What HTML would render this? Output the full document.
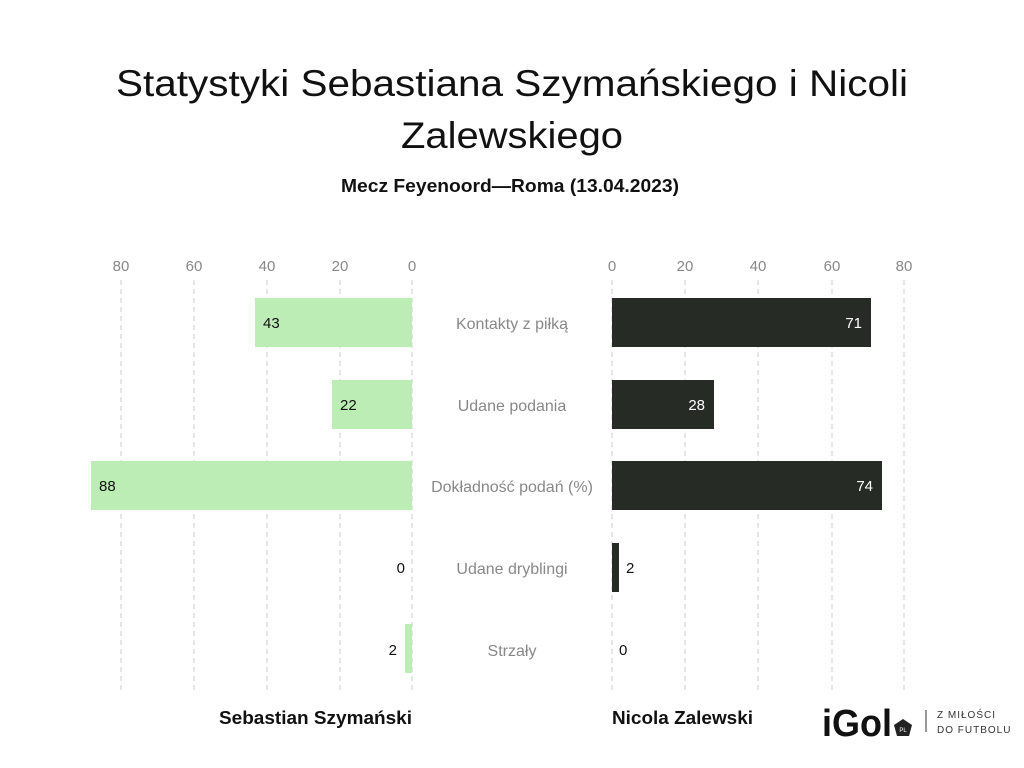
<!DOCTYPE html>
<html><head><meta charset="utf-8"><style>
body{margin:0;background:#fff}
svg{display:block;font-family:"Liberation Sans",sans-serif}
</style></head><body>
<svg width="1024" height="768" viewBox="0 0 1024 768">
<text x="116" y="96" font-size="37" fill="#111" textLength="792" lengthAdjust="spacingAndGlyphs">Statystyki Sebastiana Szymańskiego i Nicoli</text>
<text x="401" y="148" font-size="37" fill="#111" textLength="222" lengthAdjust="spacingAndGlyphs">Zalewskiego</text>
<text x="341" y="192" font-size="18" font-weight="bold" fill="#111" textLength="338" lengthAdjust="spacingAndGlyphs">Mecz Feyenoord—Roma (13.04.2023)</text>
<g stroke="#ccc" stroke-width="1" stroke-dasharray="5,4">
<line x1="121" y1="280" x2="121" y2="690"/><line x1="194" y1="280" x2="194" y2="690"/><line x1="267" y1="280" x2="267" y2="690"/><line x1="340" y1="280" x2="340" y2="690"/><line x1="412" y1="280" x2="412" y2="690"/>
<line x1="612" y1="280" x2="612" y2="690"/><line x1="685" y1="280" x2="685" y2="690"/><line x1="758" y1="280" x2="758" y2="690"/><line x1="832" y1="280" x2="832" y2="690"/><line x1="904" y1="280" x2="904" y2="690"/>
</g>
<g font-size="15" fill="#888" text-anchor="middle">
<text x="121" y="271">80</text><text x="194" y="271">60</text><text x="267" y="271">40</text><text x="340" y="271">20</text><text x="412" y="271">0</text>
<text x="612" y="271">0</text><text x="685" y="271">20</text><text x="758" y="271">40</text><text x="832" y="271">60</text><text x="904" y="271">80</text>
</g>
<g fill="#bcedb4">
<rect x="255" y="298" width="157" height="49"/>
<rect x="332" y="380" width="80" height="49"/>
<rect x="91" y="461" width="321" height="49"/>
<rect x="405" y="624" width="7" height="49"/>
</g>
<g fill="#272b26">
<rect x="612" y="298" width="259" height="49"/>
<rect x="612" y="380" width="102" height="49"/>
<rect x="612" y="461" width="270" height="49"/>
<rect x="612" y="543" width="7" height="49"/>
</g>
<g font-size="15" fill="#111">
<text x="263" y="328">43</text><text x="340" y="410">22</text><text x="99" y="491">88</text>
<text x="405" y="573" text-anchor="end">0</text><text x="397" y="655" text-anchor="end">2</text>
<text x="626" y="573">2</text><text x="619" y="655">0</text>
</g>
<g font-size="15" fill="#fff" text-anchor="end">
<text x="862" y="328">71</text><text x="705" y="410">28</text><text x="873" y="491">74</text>
</g>
<g font-size="16" fill="#888" text-anchor="middle">
<text x="512" y="329">Kontakty z piłką</text><text x="512" y="411">Udane podania</text><text x="512" y="492">Dokładność podań (%)</text><text x="512" y="574">Udane dryblingi</text><text x="512" y="656">Strzały</text>
</g>
<text x="219" y="724" font-size="18" font-weight="bold" fill="#111" textLength="193" lengthAdjust="spacingAndGlyphs">Sebastian Szymański</text>
<text x="612" y="724" font-size="18" font-weight="bold" fill="#111" textLength="141" lengthAdjust="spacingAndGlyphs">Nicola Zalewski</text>
<text x="822" y="736" font-size="38" font-weight="bold" fill="#111" textLength="70" lengthAdjust="spacingAndGlyphs">iGol</text>
<polygon points="903,719 912,725 909,736 897,736 894,725" fill="#222"/>
<text x="903" y="732" font-size="6" fill="#fff" text-anchor="middle">PL</text>
<line x1="926" y1="710" x2="926" y2="732" stroke="#333" stroke-width="1"/>
<text x="937" y="718" font-size="10" fill="#333" letter-spacing="1">Z MIŁOŚCI</text>
<text x="937" y="733" font-size="10" fill="#333" letter-spacing="1">DO FUTBOLU</text>
</svg>
</body></html>
